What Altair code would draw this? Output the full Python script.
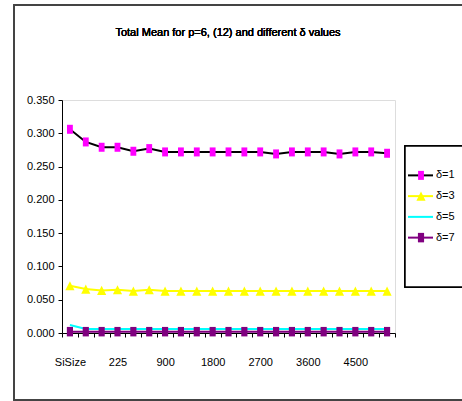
import json
import altair as alt
import pandas as pd

# Sample sizes along the category axis (only every third one is labelled)
sizes = ["SiSize", "25", "100", "225", "400", "625", "900", "1200", "1500", "1800",
         "2100", "2400", "2700", "3000", "3300", "3600", "3900", "4200", "4500",
         "4800", "5100"]

series = ["δ=1", "δ=3", "δ=5", "δ=7"]

mean_d1 = [0.306, 0.287, 0.279, 0.279, 0.273, 0.277, 0.272, 0.272, 0.272, 0.272,
           0.272, 0.272, 0.272, 0.269, 0.272, 0.272, 0.272, 0.269, 0.272, 0.272, 0.270]
mean_d3 = [0.071, 0.066, 0.064, 0.065, 0.063, 0.065, 0.063, 0.063, 0.063, 0.063,
           0.063, 0.063, 0.063, 0.063, 0.063, 0.063, 0.063, 0.063, 0.063, 0.063, 0.063]
mean_d5 = [0.012, 0.006, 0.006, 0.006, 0.006, 0.006, 0.006, 0.006, 0.006, 0.006,
           0.006, 0.006, 0.006, 0.006, 0.006, 0.006, 0.006, 0.006, 0.006, 0.006, 0.006]
mean_d7 = [0.002, 0.002, 0.002, 0.002, 0.002, 0.002, 0.002, 0.002, 0.002, 0.002,
           0.002, 0.002, 0.002, 0.002, 0.002, 0.002, 0.002, 0.002, 0.002, 0.002, 0.002]

title_text = "Total Mean for p=6, (12) and different δ values"

rows = []
for name, vals in zip(series, [mean_d1, mean_d3, mean_d5, mean_d7]):
    for s, v in zip(sizes, vals):
        rows.append({"size": s, "series": name, "mean": v})
df = pd.DataFrame(rows)
legend_df = pd.DataFrame({"series": series})

FONT = "Liberation Sans"
W, H = 333, 233

line_colors = ["#000000", "#FFFF00", "#00FFFF", "#800080"]
marker_fill = ["#FF00FF", "#FFFF00", "#00FFFF", "#800080"]
marker_shapes = [
    "M-0.65,-1H0.65V1H-0.65Z",          # tall square
    "M0,-1L1,1H-1Z",                    # triangle
    "M-0.4,-1V1M0.4,-1V1M-1,0H1",       # double bar
    "M-0.65,-1H0.65V1H-0.65Z",          # small square
]
marker_sizes = [81, 90, 49, 36]
marker_strokew = [0, 0, 1.5, 0]

stroke_scale = alt.Scale(domain=series, range=line_colors)
fill_scale = alt.Scale(domain=series, range=marker_fill)
shape_scale = alt.Scale(domain=series, range=marker_shapes)
size_scale = alt.Scale(domain=series, range=marker_sizes)
sw_scale = alt.Scale(domain=series, range=marker_strokew)

label_expr = "indexof(%s, datum.value) %% 3 == 0 ? datum.value : ''" % json.dumps(sizes)

x_enc = alt.X(
    "size:N", sort=sizes,
    scale=alt.Scale(paddingInner=0, paddingOuter=0),
    axis=alt.Axis(
        title=None, labelAngle=0, tickBand="extent", labelExpr=label_expr,
        domainColor="#000000", tickColor="#000000", tickSize=4,
        labelPadding=19, labelFont=FONT, labelFontSize=11, labelColor="#000000",
        grid=False,
    ),
)
y_enc = alt.Y(
    "mean:Q",
    scale=alt.Scale(domain=[0, 0.35]),
    axis=alt.Axis(
        title=None, values=[0, 0.05, 0.1, 0.15, 0.2, 0.25, 0.3, 0.35], format=".3f",
        domainColor="#000000", tickColor="#000000", tickSize=4, labelPadding=4,
        labelFont=FONT, labelFontSize=11, labelColor="#000000", grid=False,
    ),
)

lines = alt.Chart(df).mark_line(strokeWidth=2).encode(
    x=x_enc, y=y_enc,
    stroke=alt.Stroke("series:N", scale=stroke_scale, legend=None),
    detail="series:N",
)

points = alt.Chart(df).mark_point(filled=False, opacity=1).encode(
    x=x_enc, y=y_enc,
    fill=alt.Fill("series:N", scale=fill_scale, legend=None),
    stroke=alt.Stroke("series:N", scale=stroke_scale, legend=None),
    shape=alt.Shape("series:N", scale=shape_scale, legend=None),
    size=alt.Size("series:N", scale=size_scale, legend=None),
    strokeWidth=alt.StrokeWidth("series:N", scale=sw_scale, legend=None),
)

# Outer frame around the whole chart, and the chart title inside it
frame = alt.Chart(legend_df).mark_rect(
    fill=None, stroke="#444444", strokeWidth=1.5
).encode(
    x=alt.value(-48), x2=alt.value(420), y=alt.value(-95), y2=alt.value(300)
)
title = alt.Chart(legend_df).mark_text(
    align="center", baseline="alphabetic", font=FONT, fontSize=11,
    fontWeight="normal", color="#000000"
).encode(x=alt.value(166), y=alt.value(-64), text=alt.value(title_text))

plot = alt.layer(frame, title, lines, points)

# Legend panel
legend_y = alt.Y("series:N", sort=series,
                 scale=alt.Scale(domain=series, range=[65, 148]), axis=None)
legend_box = alt.Chart(legend_df).mark_rect(
    fill="white", stroke="#000000", strokeWidth=1.5
).encode(
    x=alt.value(343), x2=alt.value(420), y=alt.value(46), y2=alt.value(187)
)
legend_lines = alt.Chart(legend_df).mark_rule(strokeWidth=2).encode(
    x=alt.value(346), x2=alt.value(371), y=legend_y,
    stroke=alt.Stroke("series:N", scale=stroke_scale, legend=None),
)
legend_marks = alt.Chart(legend_df).mark_point(filled=False, opacity=1).encode(
    x=alt.value(359), y=legend_y,
    fill=alt.Fill("series:N", scale=fill_scale, legend=None),
    stroke=alt.Stroke("series:N", scale=stroke_scale, legend=None),
    shape=alt.Shape("series:N", scale=shape_scale, legend=None),
    size=alt.Size("series:N", scale=size_scale, legend=None),
    strokeWidth=alt.StrokeWidth("series:N", scale=sw_scale, legend=None),
)
legend_text = alt.Chart(legend_df).mark_text(
    align="left", baseline="middle", font=FONT, fontSize=11, color="#000000"
).encode(x=alt.value(374), y=legend_y, text="series:N")

legend = alt.layer(legend_box, legend_lines, legend_marks, legend_text)

chart = alt.layer(plot, legend).resolve_scale(y="independent").properties(
    width=W, height=H,
    autosize=alt.AutoSizeParams(type="none"),
    padding={"left": 62, "top": 100, "right": 67, "bottom": 68},
).configure_view(stroke=None).configure(background="white")

chart.save("out.html", embed_options={"renderer": "svg", "actions": False})
